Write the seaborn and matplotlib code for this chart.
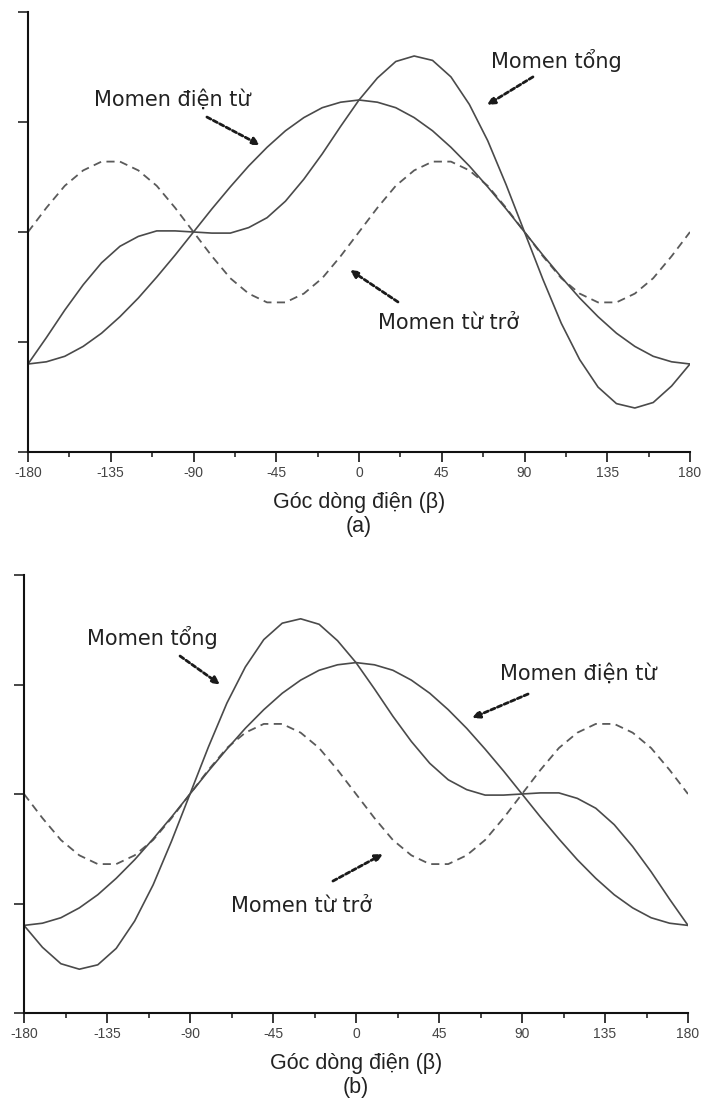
import matplotlib
matplotlib.use("Agg")
import matplotlib.pyplot as plt
import seaborn as sns
import pandas as pd
import numpy as np

# Current angle beta (degrees), sampled every 10 degrees
beta = [-180, -170, -160, -150, -140, -130, -120, -110, -100, -90,
        -80, -70, -60, -50, -40, -30, -20, -10, 0,
        10, 20, 30, 40, 50, 60, 70, 80, 90,
        100, 110, 120, 130, 140, 150, 160, 170, 180]

# Electromagnetic torque (same in both cases)
momen_dien_tu = [-1.20, -1.18, -1.13, -1.04, -0.92, -0.77, -0.60, -0.41, -0.21, 0.00,
                 0.21, 0.41, 0.60, 0.77, 0.92, 1.04, 1.13, 1.18, 1.20,
                 1.18, 1.13, 1.04, 0.92, 0.77, 0.60, 0.41, 0.21, 0.00,
                 -0.21, -0.41, -0.60, -0.77, -0.92, -1.04, -1.13, -1.18, -1.20]

# Reluctance torque, case (a)
momen_tu_tro_a = [0.00, 0.22, 0.42, 0.56, 0.64, 0.64, 0.56, 0.42, 0.22, 0.00,
                  -0.22, -0.42, -0.56, -0.64, -0.64, -0.56, -0.42, -0.22, 0.00,
                  0.22, 0.42, 0.56, 0.64, 0.64, 0.56, 0.42, 0.22, 0.00,
                  -0.22, -0.42, -0.56, -0.64, -0.64, -0.56, -0.42, -0.22, 0.00]

# Total torque, case (a)
momen_tong_a = [-1.20, -0.96, -0.71, -0.48, -0.28, -0.13, -0.04, 0.01, 0.01, 0.00,
                -0.01, -0.01, 0.04, 0.13, 0.28, 0.48, 0.71, 0.96, 1.20,
                1.40, 1.55, 1.60, 1.56, 1.41, 1.16, 0.83, 0.43, 0.00,
                -0.43, -0.83, -1.16, -1.41, -1.56, -1.60, -1.55, -1.40, -1.20]

# Reluctance torque, case (b)
momen_tu_tro_b = [0.00, -0.22, -0.42, -0.56, -0.64, -0.64, -0.56, -0.42, -0.22, 0.00,
                  0.22, 0.42, 0.56, 0.64, 0.64, 0.56, 0.42, 0.22, 0.00,
                  -0.22, -0.42, -0.56, -0.64, -0.64, -0.56, -0.42, -0.22, 0.00,
                  0.22, 0.42, 0.56, 0.64, 0.64, 0.56, 0.42, 0.22, 0.00]

# Total torque, case (b)
momen_tong_b = [-1.20, -1.40, -1.55, -1.60, -1.56, -1.41, -1.16, -0.83, -0.43, 0.00,
                0.43, 0.83, 1.16, 1.41, 1.56, 1.60, 1.55, 1.40, 1.20,
                0.96, 0.71, 0.48, 0.28, 0.13, 0.04, -0.01, -0.01, 0.00,
                0.01, 0.01, -0.04, -0.13, -0.28, -0.48, -0.71, -0.96, -1.20]

x_ticks = [-180, -135, -90, -45, 0, 45, 90, 135, 180]
x_label = "Góc dòng điện (β)"
panel_tags = ["(a)", "(b)"]

sns.set_style("ticks")
plt.rcParams["font.family"] = ["Liberation Sans", "DejaVu Sans"]

W, H = 703, 1112
fig = plt.figure(figsize=(W / 100, H / 100), dpi=100)

def px_axes(l, t, r, b):
    return fig.add_axes([l / W, 1 - b / H, (r - l) / W, (b - t) / H])

ax_a = px_axes(28, 12, 690, 452)
ax_b = px_axes(24, 575, 688, 1013)

line_col = "#4a4a4a"
dash_col = "#5a5a5a"

def draw_panel(ax, tu_tro, tong, tag, notes):
    df = pd.DataFrame({"beta": beta, "em": momen_dien_tu, "rel": tu_tro, "tot": tong})
    sns.lineplot(data=df, x="beta", y="rel", ax=ax, color=dash_col, lw=1.3,
                 linestyle=(0, (4.5, 3)), sort=False)
    sns.lineplot(data=df, x="beta", y="em", ax=ax, color=line_col, lw=1.2, sort=False)
    sns.lineplot(data=df, x="beta", y="tot", ax=ax, color=line_col, lw=1.2, sort=False)

    ax.set_xlim(-180, 180)
    ax.set_ylim(-2, 2)
    ax.set_xticks(x_ticks)
    ax.set_xticks(np.arange(-157.5, 180, 45), minor=True)
    ax.set_xticklabels([str(v) for v in x_ticks])
    ax.set_yticks([-2, -1, 0, 1, 2])
    ax.set_yticklabels([])
    ax.set_ylabel("")
    ax.set_xlabel(x_label + "\n" + tag, fontsize=15.5, color="#222222",
                  labelpad=9, linespacing=1.15)
    ax.tick_params(axis="x", which="major", direction="out", length=7, width=1.3,
                   labelsize=10, labelcolor="#444444", pad=3)
    ax.tick_params(axis="x", which="minor", direction="out", length=3.5, width=1.2)
    ax.tick_params(axis="y", which="major", direction="out", length=7.5, width=1.2)
    for s in ("top", "right"):
        ax.spines[s].set_visible(False)
    for s in ("left", "bottom"):
        ax.spines[s].set_linewidth(1.5)
        ax.spines[s].set_color("#111111")

    for text, txy, tail, head in notes:
        ax.text(txy[0], txy[1], text, ha="center", va="center", fontsize=15,
                color="#222222", family="DejaVu Sans")
        ax.annotate("", xy=head, xytext=tail,
                    arrowprops=dict(arrowstyle="-|>", color="#1a1a1a", lw=2.0,
                                    linestyle=(0, (1.6, 1.0)), mutation_scale=11,
                                    shrinkA=0, shrinkB=0))

notes_a = [
    ("Momen điện từ", (-101.7, 1.20), (-82.7, 1.045), (-53.8, 0.79)),
    ("Momen tổng", (107.1, 1.56), (94.6, 1.41), (69.6, 1.155)),
    ("Momen từ trở", (48.4, -0.83), (21.2, -0.636), (-4.9, -0.345)),
]
notes_b = [
    ("Momen tổng", (-110.6, 1.43), (-95.4, 1.26), (-73.7, 1.0)),
    ("Momen điện từ", (120.4, 1.10), (93.3, 0.913), (62.9, 0.694)),
    ("Momen từ trở", (-29.3, -1.02), (-12.5, -0.795), (14.6, -0.548)),
]

draw_panel(ax_a, momen_tu_tro_a, momen_tong_a, panel_tags[0], notes_a)
draw_panel(ax_b, momen_tu_tro_b, momen_tong_b, panel_tags[1], notes_b)

fig.savefig("out.png", dpi=100, facecolor="white")
